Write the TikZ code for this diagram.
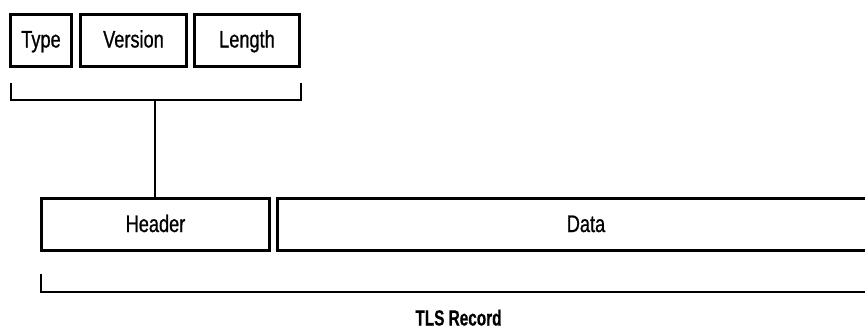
\documentclass[tikz,border=0pt]{standalone}
\usepackage{fontspec}
\setmainfont[FakeStretch=0.76,FakeBold=0.8]{Liberation Sans}
\newfontfamily\lblfont[FakeStretch=0.7,FakeBold=0.6]{Liberation Sans Bold}
\begin{document}
\begin{tikzpicture}[x=1bp,y=-1bp,
  field/.style={draw,line width=3bp,minimum height=52bp,inner sep=0pt,
    text height=17bp,text depth=2bp,font=\fontsize{24}{26}\selectfont},
  brace/.style={line width=1.4bp},
  lbl/.style={anchor=base,inner sep=0pt,font=\fontsize{22}{24}\lblfont}]
\useasboundingbox (0,0) rectangle (865,329);
\clip (0,0) rectangle (865,329);
% header fields
\node[field,minimum width=61bp]  (type)    at (41,40)   {Type};
\node[field,minimum width=106bp] (version) at (133.5,40) {Version};
\node[field,minimum width=105bp] (length)  at (247,40)  {Length};
% record parts
\node[field,minimum width=228bp] (header) at (155.5,224.5) {Header};
\node[field,minimum width=617bp] (data)   at (586,224.5)   {Data};
% bracket grouping the header fields
\coordinate (hl) at (11,83);
\coordinate (hr) at (301,83);
\coordinate (hm) at (155,100);
\draw[brace] (hl) |- (hr |- hm) -- (hr);
\draw[brace] (hm) -- (hm |- header.north);
% bracket spanning the record
\coordinate (rl) at (41,274);
\coordinate (rr) at (900,292);
\draw[brace] (rl) |- (rr);
\node[lbl] (rec) at (458.5,325.5) {TLS Record};
\end{tikzpicture}
\end{document}
